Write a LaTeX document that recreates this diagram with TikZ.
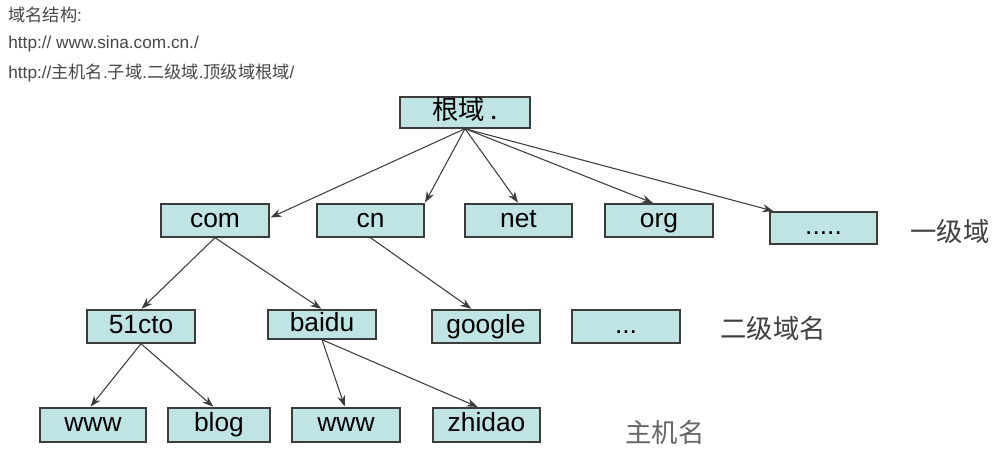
\documentclass[tikz,border=0pt]{standalone}
\usepackage{fontspec}
\setmainfont{Liberation Sans}
\newfontfamily\cjk{Noto Sans CJK SC}
\usetikzlibrary{arrows.meta}
\definecolor{boxfill}{RGB}{192,228,228}
\definecolor{edgegray}{RGB}{60,60,60}
\definecolor{txtgray}{RGB}{70,70,70}

\begin{document}
\begin{tikzpicture}[>=Stealth,
    dnsbox/.style={draw=edgegray,fill=boxfill,line width=0.8pt,
      minimum width=2.16cm,minimum height=0.66cm,inner sep=0pt,
      text height=11pt,text depth=3.5pt,
      font=\fontsize{15}{18}\selectfont},
    link/.style={->,draw=edgegray,line width=0.6pt,
      shorten >=0.5pt,{>}={Stealth[length=2.2mm,width=1.6mm]}},
    lvl/.style={font=\cjk\fontsize{15}{18}\selectfont,text=black!75},
    note/.style={anchor=west,font=\fontsize{9.8}{12}\selectfont,text=txtgray,inner sep=0pt}]
  \useasboundingbox (0,0) rectangle (20.06,9);
  % heading text
  \node[note] (hd1) at (0.16,8.70) {{\cjk 域名结构}:};
  \node[note] (hd2) at (0.16,8.12) {http:// www.sina.com.cn./};
  \node[note] (hd3) at (0.16,7.54) {http://{\cjk 主机名}.{\cjk 子域}.{\cjk 二级域}.{\cjk 顶级域根域}/};
  % root
  \node[dnsbox,minimum width=2.6cm,minimum height=0.62cm,font=\cjk\fontsize{15}{18}\selectfont] (root) at (9.30,6.75) {根域\hspace{0.2em}.};
  % top level
  \node[dnsbox] (com) at (4.30,4.59) {com};
  \node[dnsbox,minimum width=2.14cm] (cn) at (7.41,4.59) {cn};
  \node[dnsbox,minimum width=2.14cm] (net) at (10.37,4.59) {net};
  \node[dnsbox] (org) at (13.18,4.59) {org};
  \node[dnsbox,minimum width=2.14cm,minimum height=0.64cm] (more1) at (16.47,4.44) {.....};
  \node[lvl] (lvl1) at (19.0,4.38) {一级域};
  % second level
  \node[dnsbox] (cto) at (2.82,2.47) {51cto};
  \node[dnsbox,minimum height=0.58cm] (baidu) at (6.44,2.51) {baidu};
  \node[dnsbox] (google) at (9.72,2.47) {google};
  \node[dnsbox] (more2) at (12.52,2.47) {...};
  \node[lvl] (lvl2) at (15.46,2.44) {二级域名};
  % hosts
  \node[dnsbox,minimum width=2.12cm,minimum height=0.68cm] (www1) at (1.86,0.50) {www};
  \node[dnsbox,minimum width=2.04cm,minimum height=0.68cm] (blog) at (4.38,0.50) {blog};
  \node[dnsbox,minimum height=0.68cm] (www2) at (6.92,0.50) {www};
  \node[dnsbox,minimum width=2.14cm,minimum height=0.68cm] (zhidao) at (9.73,0.50) {zhidao};
  \node[lvl,text=black!60] (lvl3) at (13.3,0.36) {主机名};
  % links
  \draw[link] (root.south) -- ([yshift=1.5pt]com.east);
  \draw[link] (root.south) -- (cn.north east);
  \draw[link] (root.south) -- (net.north);
  \draw[link] (root.south) -- ([xshift=-3pt]org.north);
  \draw[link] (root.south) -- ([xshift=0.1cm]more1.north west);
  \draw[link] (com.south) -- (cto.north);
  \draw[link] (com.south) -- (baidu.north);
  \draw[link] (cn.south) -- ([xshift=-0.28cm]google.north);
  \draw[link] (cto.south) -- ([xshift=-0.06cm]www1.north);
  \draw[link] (cto.south) -- ([xshift=-0.1cm]blog.north);
  \draw[link] (baidu.south) -- ([xshift=-0.02cm]www2.north);
  \draw[link] (baidu.south) -- ([xshift=-0.16cm]zhidao.north);
\end{tikzpicture}
\end{document}
